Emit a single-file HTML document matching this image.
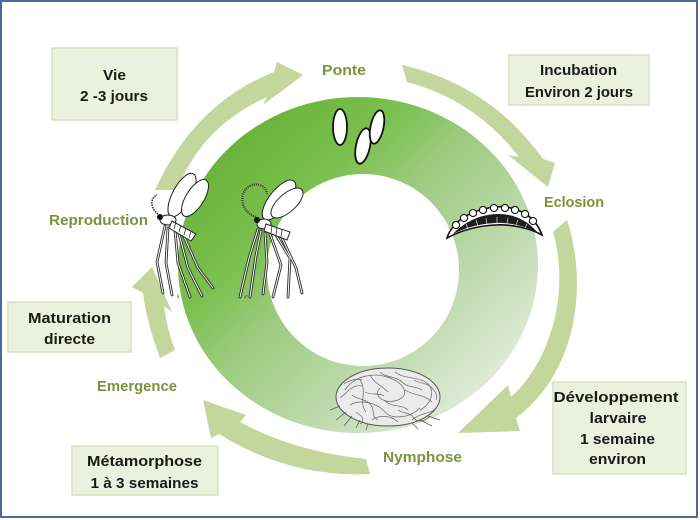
<!DOCTYPE html>
<html><head><meta charset="utf-8"><style>
html,body{margin:0;padding:0;background:#fff;}
svg{display:block;}
text{font-family:"Liberation Sans",Arial,sans-serif;font-weight:bold;font-size:15px;}
.b{fill:#1a1a1a;}
.l{fill:#77933c;}
</style></head><body>
<svg width="700" height="520" viewBox="0 0 700 520" xmlns="http://www.w3.org/2000/svg">
<defs>
<linearGradient id="g" gradientUnits="userSpaceOnUse" x1="230" y1="130" x2="490" y2="400">
<stop offset="0" stop-color="#68b238"/>
<stop offset="0.27" stop-color="#7cc04f"/>
<stop offset="0.45" stop-color="#9ccb80"/>
<stop offset="0.74" stop-color="#c1dbb1"/>
<stop offset="1" stop-color="#e4eddd"/>
</linearGradient>
</defs>
<rect width="700" height="520" fill="#fff"/>

<!-- ring -->
<path fill-rule="evenodd" fill="url(#g)" d="M178,265 a180,168 0 1,0 360,0 a180,168 0 1,0 -360,0 Z M267,270 a96,96 0 1,0 192,0 a96,96 0 1,0 -192,0 Z"/>

<!-- arrows -->
<g fill="#c3d69b">
<path d="M155,190 Q195,103 274,72 L277,62 L303,75 L263,105 L267,97 Q202,126 177,190 Z"/>
<path d="M402,65 Q490,85 543,159 L555,163 L548,187 L508,155 L519,157 Q475,100 407,82 Z"/>
<path d="M567,220 C587,280 580,370 516,418 L520,431 L458,433 L508,385 L511,397 C552,360 570,290 553,232 Z"/>
<path d="M370,474 Q290,478 219,434 L211,438 L203,400 L246,415 L240,422 Q295,452 366,459 Z"/>
<path d="M160,358 Q146,320 143,293 L132,287 L152,267 L172,312 L164,306 Q167,330 175,350 Z"/>
</g>

<!-- boxes -->
<g fill="#ebf1de" stroke="#d5e2bb" stroke-width="1.5">
<rect x="52" y="48" width="125" height="72"/>
<rect x="509" y="55" width="140" height="50"/>
<rect x="8" y="302" width="123" height="50"/>
<rect x="72" y="446" width="146" height="49"/>
<rect x="553" y="382" width="133" height="92"/>
</g>

<!-- box texts -->
<g class="b" text-anchor="middle">
<text x="114.5" y="80" textLength="23" lengthAdjust="spacingAndGlyphs">Vie</text>
<text x="114" y="101" textLength="68" lengthAdjust="spacingAndGlyphs">2 -3 jours</text>
<text x="578.5" y="75" textLength="77" lengthAdjust="spacingAndGlyphs">Incubation</text>
<text x="579" y="97" textLength="108" lengthAdjust="spacingAndGlyphs">Environ 2 jours</text>
<text x="69.5" y="323" textLength="83" lengthAdjust="spacingAndGlyphs">Maturation</text>
<text x="69.5" y="344" textLength="51" lengthAdjust="spacingAndGlyphs">directe</text>
<text x="144.5" y="466" textLength="115" lengthAdjust="spacingAndGlyphs">Métamorphose</text>
<text x="144.5" y="488" textLength="108" lengthAdjust="spacingAndGlyphs">1 à 3 semaines</text>
<text x="616" y="402" textLength="125" lengthAdjust="spacingAndGlyphs">Développement</text>
<text x="618" y="423" textLength="57" lengthAdjust="spacingAndGlyphs">larvaire</text>
<text x="617.5" y="444" textLength="75" lengthAdjust="spacingAndGlyphs">1 semaine</text>
<text x="617.5" y="464" textLength="57" lengthAdjust="spacingAndGlyphs">environ</text>
</g>

<!-- stage labels -->
<g class="l" text-anchor="middle">
<text x="344" y="75" textLength="44" lengthAdjust="spacingAndGlyphs">Ponte</text>
<text x="574" y="207" textLength="60" lengthAdjust="spacingAndGlyphs">Eclosion</text>
<text x="98.5" y="225" textLength="99" lengthAdjust="spacingAndGlyphs">Reproduction</text>
<text x="137" y="391" textLength="80" lengthAdjust="spacingAndGlyphs">Emergence</text>
<text x="422.5" y="462" textLength="79" lengthAdjust="spacingAndGlyphs">Nymphose</text>
</g>

<!-- eggs -->
<g fill="#fff" stroke="#111" stroke-width="1.8">
<ellipse cx="340" cy="127" rx="7" ry="18"/>
<ellipse cx="363" cy="146" rx="7" ry="18" transform="rotate(12 363 146)"/>
<ellipse cx="377" cy="127" rx="6.5" ry="17" transform="rotate(12 377 127)"/>
</g>

<!-- larva -->
<g>
<path d="M447,238 C452,222 470,210 495,207 C515,205 535,215 542,235 C530,228 510,224 495,225 C475,226 460,231 447,238 Z" fill="#fff" stroke="#111" stroke-width="1.6"/>
<path d="M453,234 C464,222 481,214 498,214 C515,214 528,221 537,232 C521,225 506,222 495,223 C478,224 465,228 453,234 Z" fill="#1e1e1e"/>
<g fill="#fff" stroke="#111" stroke-width="1.1">
<circle cx="456" cy="225" r="3.6"/><circle cx="464" cy="218" r="3.6"/><circle cx="473" cy="213" r="3.6"/>
<circle cx="483" cy="210" r="3.6"/><circle cx="494" cy="208" r="3.6"/><circle cx="505" cy="208" r="3.6"/>
<circle cx="515" cy="210" r="3.6"/><circle cx="525" cy="214" r="3.6"/><circle cx="533" cy="221" r="3.6"/>
</g>
<g stroke="#fff" stroke-width="0.6">
<line x1="466" y1="224" x2="468" y2="229"/><line x1="476" y1="220" x2="478" y2="226"/>
<line x1="486" y1="218" x2="487" y2="224"/><line x1="497" y1="217" x2="497" y2="223"/>
<line x1="508" y1="218" x2="507" y2="223"/><line x1="518" y1="220" x2="516" y2="225"/>
<line x1="527" y1="224" x2="525" y2="228"/>
</g>
</g>

<!-- pupa -->
<g>
<ellipse cx="388" cy="397" rx="52" ry="29" fill="#ebebeb" stroke="#555" stroke-width="1"/>
<g fill="none" stroke="#666" stroke-width="0.7">
<path d="M345,390 C355,375 375,372 390,378 C405,384 410,395 398,400 C385,405 372,396 380,388"/>
<path d="M350,405 C362,398 378,404 385,412 C392,420 410,418 420,408"/>
<path d="M360,380 C368,392 358,402 366,412"/>
<path d="M395,372 C405,380 420,376 428,384 C436,392 430,405 420,410"/>
<path d="M340,398 C348,392 352,384 362,386"/>
<path d="M372,420 C380,414 392,416 398,422"/>
<path d="M405,390 C414,396 424,394 432,402"/>
<path d="M370,375 C374,383 382,386 388,392"/>
<path d="M412,420 C418,414 428,414 434,410"/>
<path d="M352,395 C358,400 364,398 370,404 C376,410 370,416 378,420"/>
<path d="M384,400 C392,408 402,404 408,410"/>
<path d="M380,372 C386,378 396,376 402,382 C408,388 416,386 422,390"/>
<path d="M344,384 C350,380 356,378 362,380"/>
<path d="M398,410 C404,414 410,412 414,418 C418,424 426,420 430,416"/>
<path d="M356,412 C362,416 366,420 360,424"/>
<path d="M414,380 C420,384 426,382 432,388 C436,392 438,396 436,400"/>
<path d="M365,392 C372,396 378,392 384,396"/>
</g>
<g stroke="#555" stroke-width="0.7">
<line x1="346" y1="412" x2="336" y2="420"/><line x1="352" y1="416" x2="344" y2="426"/>
<line x1="360" y1="420" x2="356" y2="428"/><line x1="420" y1="420" x2="432" y2="426"/>
<line x1="428" y1="416" x2="440" y2="420"/><line x1="340" y1="406" x2="330" y2="410"/>
<line x1="368" y1="424" x2="366" y2="430"/><line x1="412" y1="423" x2="418" y2="429"/>
</g>
</g>

<!-- female mosquito -->
<g>
<g fill="none" stroke-linecap="round" stroke-linejoin="round">
<g stroke="#2a2a2a" stroke-width="2.8">
<path d="M165,226 L157,262 L163,293"/><path d="M168,228 L166,263 L172,295"/>
<path d="M175,230 L178,263 L190,297"/><path d="M178,230 L188,268 L202,296"/>
<path d="M182,232 L198,268 L213,288"/>
</g>
<g stroke="#fff" stroke-width="1">
<path d="M165,226 L157,262 L163,293"/><path d="M168,228 L166,263 L172,295"/>
<path d="M175,230 L178,263 L190,297"/><path d="M178,230 L188,268 L202,296"/>
<path d="M182,232 L198,268 L213,288"/>
</g>
</g>
<g fill="#fff" stroke="#222" stroke-width="1">
<ellipse cx="182" cy="195" rx="24" ry="9.5" transform="rotate(-62 182 195)"/>
<ellipse cx="195" cy="198" rx="21" ry="9" transform="rotate(-58 195 198)"/>
<ellipse cx="168" cy="220" rx="8" ry="5"/>
<path d="M172,221 L196,234 L191,241 L169,228 Z"/>
</g>
<g stroke="#333" stroke-width="0.8">
<line x1="176" y1="222" x2="174" y2="229"/><line x1="181" y1="225" x2="179" y2="232"/>
<line x1="186" y1="228" x2="184" y2="235"/><line x1="191" y1="231" x2="189" y2="238"/>
</g>
<circle cx="160" cy="217" r="3" fill="#111"/>
<path d="M158,214 C150,208 150,198 157,195" fill="none" stroke="#222" stroke-width="1.5" stroke-dasharray="1.5 1"/>
<text x="175" y="299" style="font-size:8px;font-weight:normal;fill:#222">♀</text>
</g>

<!-- male mosquito -->
<g>
<g fill="none" stroke-linecap="round" stroke-linejoin="round">
<g stroke="#2a2a2a" stroke-width="2.8">
<path d="M258,229 L249,258 L240,297"/><path d="M261,231 L256,256 L250,297"/>
<path d="M265,233 L267,262 L263,294"/><path d="M270,234 L281,265 L273,297"/>
<path d="M276,235 L290,258 L288,297"/><path d="M281,236 L296,268 L302,293"/>
</g>
<g stroke="#fff" stroke-width="1">
<path d="M258,229 L249,258 L240,297"/><path d="M261,231 L256,256 L250,297"/>
<path d="M265,233 L267,262 L263,294"/><path d="M270,234 L281,265 L273,297"/>
<path d="M276,235 L290,258 L288,297"/><path d="M281,236 L296,268 L302,293"/>
</g>
</g>
<g fill="#fff" stroke="#222" stroke-width="1">
<ellipse cx="279" cy="200" rx="24" ry="10" transform="rotate(-52 279 200)"/>
<ellipse cx="287" cy="203" rx="20" ry="9" transform="rotate(-42 287 203)"/>
<ellipse cx="264" cy="224" rx="7" ry="5"/>
<path d="M266,224 L290,232 L287,240 L264,231 Z"/>
</g>
<g stroke="#333" stroke-width="0.8">
<line x1="272" y1="226" x2="271" y2="233"/><line x1="277" y1="228" x2="276" y2="235"/>
<line x1="282" y1="230" x2="281" y2="237"/>
</g>
<circle cx="257" cy="220" r="3" fill="#111"/>
<path d="M256,217 C240,212 238,192 250,186 C258,182 266,186 267,194" fill="none" stroke="#333" stroke-width="2.2" stroke-dasharray="1 1.2"/>
<text x="243" y="299" style="font-size:7px;font-weight:normal;fill:#222">♂</text>
</g>

<!-- frame -->
<rect x="1" y="1" width="696" height="516" fill="none" stroke="#4a6a9c" stroke-width="2"/>
</svg>
</body></html>
